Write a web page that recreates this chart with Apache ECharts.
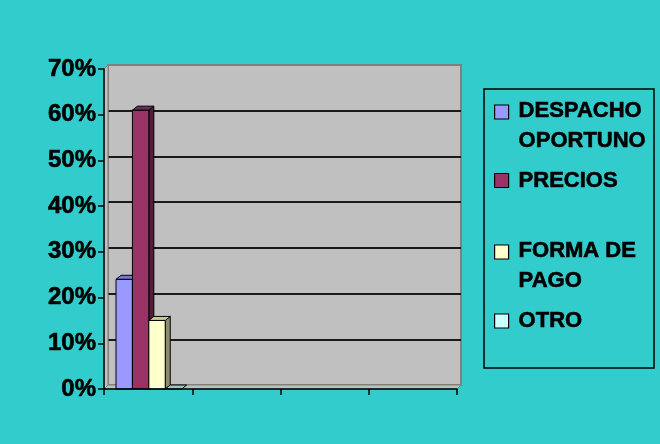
<!DOCTYPE html>
<html>
<head>
<meta charset="utf-8">
<script src="https://cdn.jsdelivr.net/npm/echarts@6/dist/echarts.min.js"></script>
<style>
  html, body { margin: 0; padding: 0; background: #33CCCC; }
  #chart { width: 660px; height: 444px; }
</style>
</head>
<body>
<div id="chart"></div>
<script>
// Category slots along the x axis (unlabelled) and percentage ticks
const categories = ['', '', '', ''];
const yMax = 70;
const yStep = 10;

// Series names and values (percent), one value per category slot
const seriesNames = ['DESPACHO\nOPORTUNO', 'PRECIOS', 'FORMA DE\nPAGO', 'OTRO'];
const despacho = [24];
const precios = [61];
const formaPago = [15];
const otro = [0];
const seriesValues = [despacho, precios, formaPago, otro];

// Styling
const seriesColors = ['#9999FF', '#993366', '#FFFFCC', '#CCFFFF'];
const FONT = 'Arial, "Liberation Sans", sans-serif';
const front = { left: 104, top: 69, right: 457, bottom: 389 };
const depth = { dx: 4, dy: -4 };
const W = 660, H = 444;

function shade(hex, k) {
  const n = parseInt(hex.slice(1), 16);
  const r = Math.round(((n >> 16) & 255) * k);
  const g = Math.round(((n >> 8) & 255) * k);
  const b = Math.round((n & 255) * k);
  return 'rgb(' + r + ',' + g + ',' + b + ')';
}

// 3D-looking column: front face, top face and right side face
function makeRenderItem(sIdx) {
  return function (params, api) {
    const cat = api.value(0);
    const val = api.value(1);
    const base = api.coord([cat, 0]);
    const tip = api.coord([cat, val]);
    const band = api.size([1, 0])[0];
    const w = band * 0.186;
    const x0 = base[0] - band / 2 + band * 0.136 + sIdx * w;
    const x1 = x0 + w;
    const yb = base[1], yt = tip[1];
    const col = seriesColors[sIdx];
    const ddx = depth.dx + 1;
    const stroke = { stroke: '#000', lineWidth: 1 };
    const children = [];
    if (yb - yt > 0.5) {
      children.push({
        type: 'polygon',
        shape: { points: [[x1, yt], [x1 + ddx, yt + depth.dy], [x1 + ddx, yb + depth.dy], [x1, yb]] },
        style: Object.assign({ fill: shade(col, 0.55) }, stroke)
      });
      children.push({
        type: 'rect',
        shape: { x: x0, y: yt, width: w, height: yb - yt },
        style: Object.assign({ fill: col }, stroke)
      });
    }
    children.push({
      type: 'polygon',
      shape: { points: [[x0, yt], [x0 + ddx, yt + depth.dy], [x1 + ddx, yt + depth.dy], [x1, yt]] },
      style: Object.assign({ fill: shade(col, 0.78) }, stroke)
    });
    return { type: 'group', children: children };
  };
}

const series = seriesValues.map(function (vals, i) {
  return {
    name: seriesNames[i],
    type: 'custom',
    xAxisIndex: 0,
    yAxisIndex: 0,
    clip: false,
    z: 5,
    itemStyle: { color: seriesColors[i] },
    renderItem: makeRenderItem(i),
    data: vals.map(function (v, c) { return [c, v]; })
  };
});

// Legend entries: one component per entry so each can sit at its own height
const legendCenters = [111, 180.5, 251, 321];
const legends = seriesNames.map(function (name, i) {
  const twoLine = name.indexOf('\n') >= 0;
  return {
    data: [{ name: name, icon: twoLine ? 'path://M0,0H14V14H0ZM0,42' : 'rect' }],
    orient: 'vertical',
    left: 494,
    top: legendCenters[i] - 15,
    padding: 0,
    selectedMode: false,
    itemWidth: 14,
    itemHeight: twoLine ? 42 : 14,
    itemStyle: { borderColor: '#000', borderWidth: 1.2 },
    textStyle: {
      fontFamily: FONT, fontWeight: 'bold', fontSize: 22, color: '#000',
      textBorderColor: '#000', textBorderWidth: 0.6,
      lineHeight: 30, padding: [0, 0, 0, 5]
    }
  };
});

const option = {
  backgroundColor: '#33CCCC',
  animation: false,
  grid: [
    { // front plane: axes and columns
      left: front.left, top: front.top, right: W - front.right, bottom: H - front.bottom,
      containLabel: false
    },
    { // back wall with gridlines
      left: front.left + depth.dx, top: front.top + depth.dy,
      right: W - front.right - depth.dx, bottom: H - front.bottom - depth.dy,
      show: true, backgroundColor: '#C0C0C0', borderColor: '#808080', borderWidth: 2, z: 0
    }
  ],
  xAxis: [
    {
      gridIndex: 0, type: 'category', data: categories, boundaryGap: true, z: 6,
      axisLine: { show: true, lineStyle: { color: '#000', width: 1.5 } },
      axisTick: { show: true, inside: false, length: 6, alignWithLabel: false, lineStyle: { color: '#000', width: 1.5 } },
      axisLabel: { show: false },
      splitLine: { show: false }
    },
    {
      gridIndex: 1, type: 'category', data: categories, show: false
    }
  ],
  yAxis: [
    {
      gridIndex: 0, type: 'value', min: 0, max: yMax, interval: yStep, z: 6,
      axisLine: { show: true, lineStyle: { color: '#000', width: 1.5 } },
      axisTick: { show: true, inside: false, length: 6, lineStyle: { color: '#000', width: 1.5 } },
      axisLabel: {
        formatter: '{value}%', margin: 8, color: '#000',
        fontFamily: FONT, fontWeight: 'bold', fontSize: 24,
        textBorderColor: '#000', textBorderWidth: 0.6
      },
      splitLine: { show: false }
    },
    {
      gridIndex: 1, type: 'value', min: 0, max: yMax, interval: yStep,
      axisLine: { show: false }, axisTick: { show: false }, axisLabel: { show: false },
      splitLine: { show: true, showMinLine: false, showMaxLine: false, lineStyle: { color: '#1a1a1a', width: 2 } }
    }
  ],
  legend: legends,
  graphic: [
    { // floor
      type: 'polygon', z: 1, silent: true,
      shape: { points: [[front.left, front.bottom], [front.right, front.bottom],
        [front.right + depth.dx, front.bottom + depth.dy], [front.left + depth.dx, front.bottom + depth.dy]] },
      style: { fill: '#C0C0C0', stroke: '#808080', lineWidth: 1 }
    },
    { // left side wall
      type: 'polygon', z: 1, silent: true,
      shape: { points: [[front.left, front.top], [front.left + depth.dx, front.top + depth.dy],
        [front.left + depth.dx, front.bottom + depth.dy], [front.left, front.bottom]] },
      style: { fill: '#C0C0C0', stroke: '#808080', lineWidth: 1 }
    },
    { // legend frame
      type: 'rect', z: 1, silent: true,
      shape: { x: 484, y: 89, width: 170, height: 279 },
      style: { fill: null, stroke: '#000', lineWidth: 1.5 }
    }
  ],
  series: series
};

const chart = echarts.init(document.getElementById('chart'), null, { renderer: 'canvas' });
chart.setOption(option);
</script>
</body>
</html>
